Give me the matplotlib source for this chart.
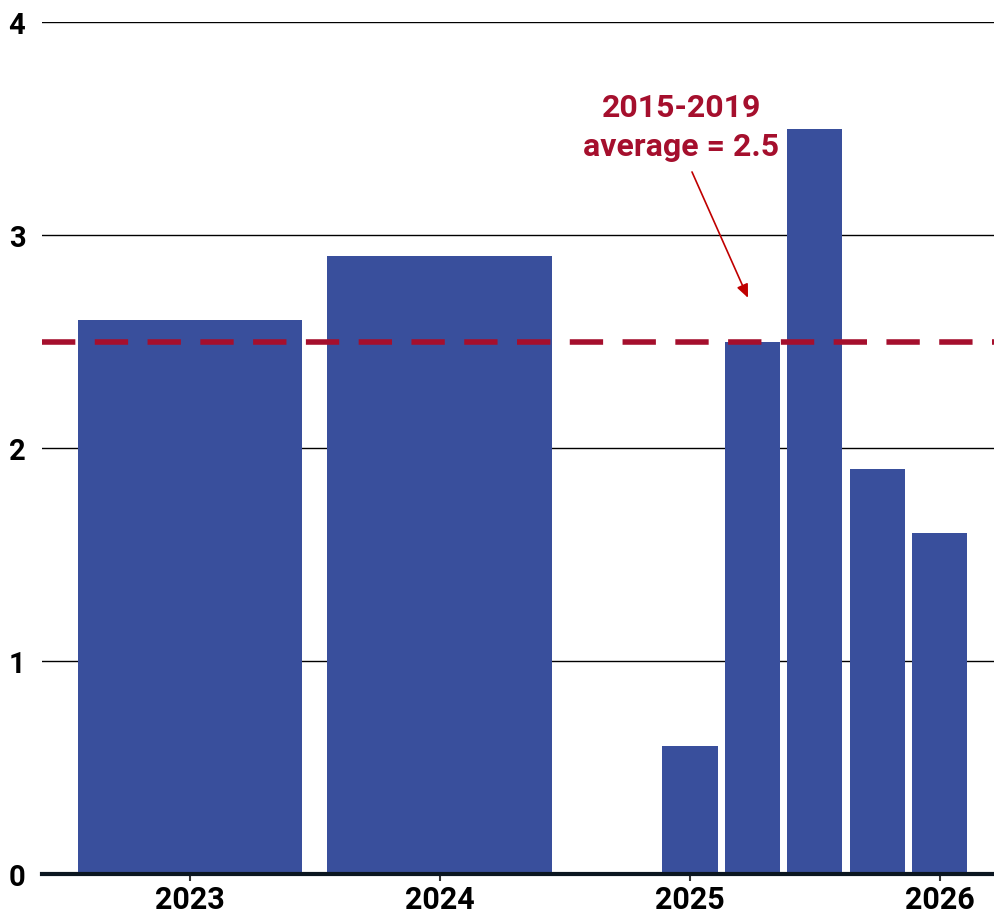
import matplotlib
matplotlib.use("Agg")
import matplotlib.pyplot as plt

plt.rcParams['font.family'] = ['Roboto', 'DejaVu Sans']

# Annual values (2023, 2024) followed by quarterly values 2025Q1 .. 2026Q1
annual_labels = ["2023", "2024"]
annual_values = [2.6, 2.9]
quarter_values = [0.6, 2.5, 3.5, 1.9, 1.6]
tick_labels = ["2023", "2024", "2025", "2026"]
avg_label_lines = ["2015-2019", "average = 2.5"]
avg_value = 2.5

bar_color = "#394F9C"
red = "#A50F2D"

fig = plt.figure(figsize=(9.94, 9.2), dpi=100)
ax = fig.add_axes([42 / 994, 45 / 920, 1 - 42 / 994, 852 / 920])

annual_x = [0, 1]
quarter_x = [2 + 0.25 * i for i in range(len(quarter_values))]

ax.bar(annual_x, annual_values, width=0.9, color=bar_color, zorder=2)
ax.bar(quarter_x, quarter_values, width=0.22, color=bar_color, zorder=2)

ax.axhline(avg_value, color=red, lw=4, dashes=(6, 3.5), zorder=3)

ax.set_xlim(-0.592, 3.216)
ax.set_ylim(0, 4)
ax.set_yticks([0, 1, 2, 3, 4])
ax.set_yticklabels(["0", "1", "2", "3", "4"], fontsize=21, fontweight="bold")
ax.set_xticks([0, 1, 2, 3])
ax.set_xticklabels(tick_labels, fontsize=22, fontweight="bold")
ax.tick_params(axis="y", length=0, pad=12)
ax.tick_params(axis="x", length=5, width=1.5, color="#333333", pad=2)

ax.grid(axis="y", color="black", lw=1, zorder=0)
ax.set_axisbelow(True)
for s in ["top", "right", "left"]:
    ax.spines[s].set_visible(False)
ax.spines["bottom"].set_linewidth(3)
ax.spines["bottom"].set_color("#0b1620")
ax.spines["bottom"].set_zorder(4)

# Label for the 2015-2019 average, two lines, with a pointer to the dashed line
ax.text(1.965, 3.60, avg_label_lines[0], ha="center", va="center",
        fontsize=23, fontweight="bold", color=red)
ax.text(1.965, 3.418, avg_label_lines[1], ha="center", va="center",
        fontsize=23, fontweight="bold", color=red)
ax.annotate("", xy=(2.232, 2.705), xytext=(2.008, 3.296),
            arrowprops=dict(arrowstyle="-|>,head_length=0.8,head_width=0.35",
                            color="#C00000", lw=1.2, shrinkA=0, shrinkB=0),
            annotation_clip=False)

fig.savefig("out.png", dpi=100)
